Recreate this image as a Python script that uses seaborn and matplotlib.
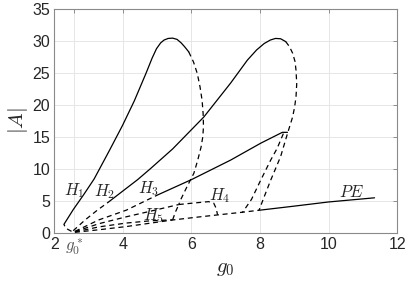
import matplotlib
matplotlib.use("Agg")
import matplotlib.pyplot as plt
import seaborn as sns
import pandas as pd

sns.set_theme(style="whitegrid")
plt.rcParams['font.family'] = ['Liberation Sans', 'DejaVu Sans']
plt.rcParams['mathtext.fontset'] = 'cm'

# ---- data ----
h1_solid_x = [2.28, 2.55, 2.85, 3.16, 3.6, 3.99, 4.33, 4.67, 4.85, 4.98, 5.1, 5.2, 5.32, 5.45, 5.58, 5.7, 5.8, 5.92]
h1_solid_y = [1.3, 3.6, 5.9, 8.4, 12.8, 16.8, 20.6, 24.9, 27.3, 28.8, 29.7, 30.15, 30.4, 30.45, 30.25, 29.7, 29.1, 28.3]
h1_dash_x = [5.92, 6.06, 6.17, 6.25, 6.31, 6.34, 6.35, 6.33, 6.28, 6.18, 6.07, 5.87, 5.68, 5.63]
h1_dash_y = [28.3, 26.7, 24.9, 22.8, 20.7, 18.6, 16.6, 15.0, 13.4, 11.3, 9.3, 7.2, 5.1, 4.4]
h1_start_x = [2.5, 2.33, 2.28]
h1_start_y = [0.2, 0.7, 1.3]

h2_dash_x = [2.55, 2.9, 3.25, 3.57]
h2_dash_y = [0.3, 2.0, 3.5, 4.75]
h2_solid_x = [3.57, 4.43, 4.8, 5.45, 6.36, 7.14, 7.63, 7.9, 8.12, 8.3, 8.45, 8.6, 8.75]
h2_solid_y = [4.75, 8.3, 10.0, 13.1, 18.1, 23.4, 27.0, 28.6, 29.6, 30.15, 30.4, 30.35, 29.9]
h2_loop_x = [8.75, 8.86, 8.95, 9.02, 9.05, 9.07, 9.05, 9.01, 8.95, 8.8, 8.6, 8.31, 8.12, 7.97]
h2_loop_y = [29.9, 29.1, 28.1, 26.8, 25.4, 23.3, 21.3, 19.7, 18.1, 15.5, 11.9, 8.2, 5.6, 3.5]

h3_dash_x = [2.6, 3.3, 4.1, 5.0]
h3_dash_y = [0.2, 2.0, 3.52, 5.87]
h3_solid_x = [5.0, 6.0, 7.14, 8.02, 8.65, 8.8]
h3_solid_y = [5.87, 8.3, 11.35, 14.0, 15.7, 15.7]
h3_back_x = [8.68, 8.5, 8.31, 8.0, 7.75, 7.48]
h3_back_y = [15.5, 13.2, 11.35, 8.0, 5.2, 3.1]

l3_x = [2.6, 3.3, 4.1, 4.8, 5.63]
l3_y = [0.15, 1.4, 2.48, 3.35, 4.4]

h4_x = [5.63, 6.0, 6.5, 6.65, 6.72, 6.76]
h4_y = [4.4, 4.6, 4.85, 4.6, 3.8, 2.8]

h5_x = [2.6, 3.3, 4.1, 4.8, 5.45]
h5_y = [0.1, 0.9, 1.5, 1.85, 2.0]
h5_up_x = [5.45, 5.53, 5.63]
h5_up_y = [2.0, 3.2, 4.4]

pe_dash_x = [2.6, 3.3, 4.1, 5.45, 6.26, 7.43, 7.97]
pe_dash_y = [0.05, 0.45, 0.95, 1.98, 2.48, 3.16, 3.5]
pe_solid_x = [7.97, 9.0, 10.0, 11.34]
pe_solid_y = [3.5, 4.15, 4.8, 5.45]

x_ticks = [2, 2.58, 4, 6, 8, 10, 12]
x_tick_labels = ['2', r'$g_0^*$', '4', '6', '8', '10', '12']
y_ticks = [0, 5, 10, 15, 20, 25, 30, 35]

labels = [r'$H_1$', r'$H_2$', r'$H_3$', r'$H_4$', r'$H_5$', r'$PE$']
label_x = [2.28, 3.16, 4.45, 6.5, 4.6, 10.3]
label_y = [5.9, 5.7, 6.2, 5.1, 1.96, 5.56]

# ---- plotting ----
fig = plt.figure(figsize=(4.15, 2.83), dpi=100)
ax = fig.add_axes([0.131, 0.178, 0.826, 0.79])

solid = [(h1_solid_x, h1_solid_y), (h2_solid_x, h2_solid_y),
         (h3_solid_x, h3_solid_y), (pe_solid_x, pe_solid_y)]
dashed = [(h1_dash_x, h1_dash_y), (h1_start_x, h1_start_y), (h2_dash_x, h2_dash_y),
          (h2_loop_x, h2_loop_y), (h3_dash_x, h3_dash_y), (h3_back_x, h3_back_y),
          (l3_x, l3_y), (h4_x, h4_y), (h5_x, h5_y), (h5_up_x, h5_up_y),
          (pe_dash_x, pe_dash_y)]

for xs, ys in solid:
    df = pd.DataFrame({'g0': xs, 'A': ys})
    sns.lineplot(data=df, x='g0', y='A', sort=False, estimator=None,
                 color='black', linewidth=0.9, ax=ax)
    ax.lines[-1].set_solid_joinstyle('round')
for xs, ys in dashed:
    df = pd.DataFrame({'g0': xs, 'A': ys})
    sns.lineplot(data=df, x='g0', y='A', sort=False, estimator=None,
                 color='black', linewidth=0.9, ax=ax)
    ax.lines[-1].set_linestyle((0, (4, 3)))

for t, tx, ty in zip(labels, label_x, label_y):
    ax.text(tx, ty, t, fontsize=12, ha='left', va='baseline')

ax.set_xlim(2, 12)
ax.set_ylim(0, 35)
ax.set_xticks(x_ticks)
ax.set_xticklabels(x_tick_labels)
ax.set_yticks(y_ticks)
ax.tick_params(axis='both', direction='in', length=3, width=0.6, colors='#808080',
               labelcolor='#262626', labelsize=11.5, top=True, right=True, pad=3)
for lab in ax.get_xticklabels():
    if lab.get_text().startswith('$'):
        lab.set_fontsize(12)
        lab.set_color('#555555')
ax.grid(True, color='#e6e6e6', linewidth=0.7)
for s in ax.spines.values():
    s.set_visible(True)
    s.set_color('#8a8a8a')
    s.set_linewidth(0.8)
ax.set_xlabel(r'$g_0$', fontsize=15, labelpad=1, color='#262626')
ax.set_ylabel(r'$|A|$', fontsize=15, labelpad=2, color='#262626')

fig.savefig('out.png', dpi=100)
